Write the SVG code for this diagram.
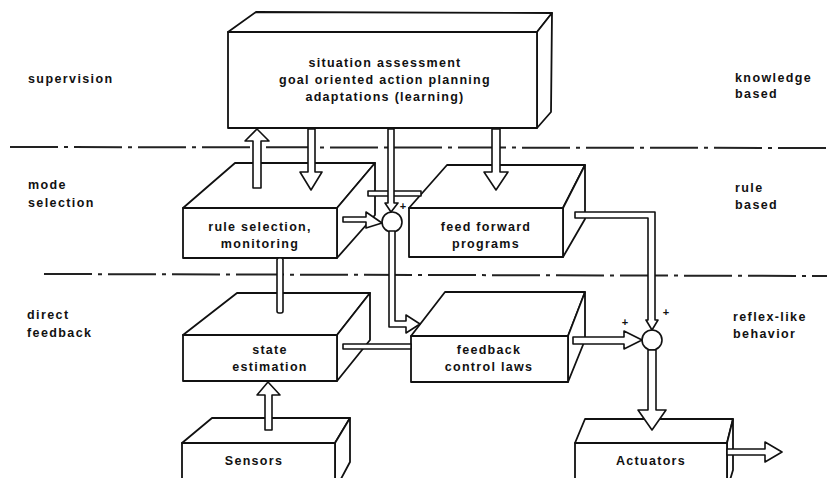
<svg xmlns="http://www.w3.org/2000/svg" width="827" height="478" viewBox="0 0 827 478">
<style>
  .face{fill:#fff;stroke:#111;stroke-width:1.8;stroke-linejoin:round}
  .pipe{fill:#fff;stroke:#111;stroke-width:1.6;stroke-linejoin:round}
  .lvl{fill:none;stroke:#222;stroke-width:2;stroke-dasharray:48 6 4 6}
  .t{font-family:"Liberation Sans",Arial,sans-serif;font-weight:bold;font-size:12.5px;fill:#111;text-anchor:middle;letter-spacing:1.3px}
  .lbl{font-family:"Liberation Sans",Arial,sans-serif;font-weight:bold;font-size:12.5px;fill:#111;letter-spacing:1.4px}
  .pl{font-family:"Liberation Sans",Arial,sans-serif;font-weight:bold;font-size:11px;fill:#111;text-anchor:middle}
</style>
<rect width="827" height="478" fill="#fff"/>

<g id="levels">
  <line class="lvl" x1="10" y1="147" x2="827" y2="148"/>
  <line class="lvl" x1="44" y1="274" x2="827" y2="276"/>
</g>

<g id="side-labels">
  <text class="lbl" x="28" y="83">supervision</text>
  <text class="lbl" x="28" y="189">mode</text>
  <text class="lbl" x="28" y="207">selection</text>
  <text class="lbl" x="27" y="319">direct</text>
  <text class="lbl" x="27" y="337">feedback</text>
  <text class="lbl" x="735" y="82">knowledge</text>
  <text class="lbl" x="735" y="98">based</text>
  <text class="lbl" x="735" y="192">rule</text>
  <text class="lbl" x="735" y="209">based</text>
  <text class="lbl" x="733" y="321">reflex-like</text>
  <text class="lbl" x="733" y="338">behavior</text>
</g>

<g id="situation-assessment">
  <polygon class="face" points="228,32 256,12 552,13 537,32"/>
  <polygon class="face" points="537,32 552,13 551,112 537,128"/>
  <rect class="face" x="228" y="32" width="309" height="96"/>
  <text class="t" x="385" y="67">situation assessment</text>
  <text class="t" x="385" y="84">goal oriented action planning</text>
  <text class="t" x="385" y="101">adaptations (learning)</text>
</g>

<g id="rule-selection">
  <polygon class="face" points="183,208 235,163 375,163 337,208"/>
  <polygon class="face" points="337,208 375,163 375,215 337,258"/>
  <rect class="face" x="183" y="208" width="154" height="50"/>
  <text class="t" x="260" y="231">rule selection,</text>
  <text class="t" x="260" y="248">monitoring</text>
</g>

<g id="feed-forward">
  <polygon class="face" points="409,208 447,165 585,165 563,208"/>
  <polygon class="face" points="563,208 585,165 585,219 563,257"/>
  <rect class="face" x="409" y="208" width="154" height="49"/>
  <text class="t" x="486" y="231">feed forward</text>
  <text class="t" x="486" y="248">programs</text>
</g>

<g id="state-estimation">
  <polygon class="face" points="183,335 237,293 370,293 337,335"/>
  <polygon class="face" points="337,335 370,293 370,340 337,381"/>
  <rect class="face" x="183" y="335" width="154" height="46"/>
  <text class="t" x="270" y="354">state</text>
  <text class="t" x="270" y="371">estimation</text>
</g>

<g id="feedback-control">
  <polygon class="face" points="411,336 445,292 585,292 568,336"/>
  <polygon class="face" points="568,336 585,292 585,340 568,382"/>
  <rect class="face" x="411" y="336" width="157" height="46"/>
  <text class="t" x="489" y="354">feedback</text>
  <text class="t" x="489" y="371">control laws</text>
</g>

<g id="sensors">
  <polygon class="face" points="182,443 212,418 350,418 335,443"/>
  <polygon class="face" points="335,443 350,418 350,462 335,490"/>
  <rect class="face" x="182" y="443" width="153" height="45"/>
  <text class="t" x="254" y="465">Sensors</text>
</g>

<g id="actuators">
  <polygon class="face" points="575,443 585,419 733,419 727,443"/>
  <polygon class="face" points="727,443 733,419 733,470 727,490"/>
  <rect class="face" x="575" y="443" width="152" height="45"/>
  <text class="t" x="651" y="465">Actuators</text>
</g>

<g id="junction-1">
  <circle class="pipe" cx="392" cy="222" r="10"/>
  <text class="pl" x="403" y="210">+</text>
</g>

<g id="junction-2">
  <circle class="pipe" cx="652" cy="340" r="10"/>
  <text class="pl" x="666" y="316">+</text>
  <text class="pl" x="625" y="326">+</text>
</g>

<g id="connectors">
  <polygon class="pipe" points="253,188 253,141 245,141 257,129 269,141 261,141 261,188"/>
  <polygon class="pipe" points="308,129 308,172 300,172 311,190 322,172 315,172 315,129"/>
  <polygon class="pipe" points="492,129 492,172 484,172 496,190 508,172 500,172 500,129"/>
  <rect class="pipe" x="368" y="191" width="53" height="5"/>
  <polygon class="pipe" points="388,129 388,203 385,203 391,212 398,203 394,203 394,129"/>
  <polygon class="pipe" points="343,217 366,217 366,212 382,223 366,228 366,222 343,222"/>
  <polygon class="pipe" points="389,231 389,327 406,327 406,333 420,324 406,315 406,321 395,321 395,231"/>
  <rect class="pipe" x="277" y="258" width="6" height="55" rx="2"/>
  <rect class="pipe" x="343" y="344" width="68" height="5"/>
  <polygon class="pipe" points="573,337 624,337 624,331 642,340 624,349 624,344 573,344"/>
  <polygon class="pipe" points="575,212 655,212 655,320 658,320 652,330 646,320 648,320 648,218 575,218"/>
  <polygon class="pipe" points="648,350 648,410 638,410 652,430 666,410 656,410 656,350"/>
  <polygon class="pipe" points="727,449 765,449 765,442 782,452 765,462 765,455 727,455"/>
  <polygon class="pipe" points="265,430 265,395 257,395 268,382 280,395 272,395 272,430"/>
</g>
</svg>
